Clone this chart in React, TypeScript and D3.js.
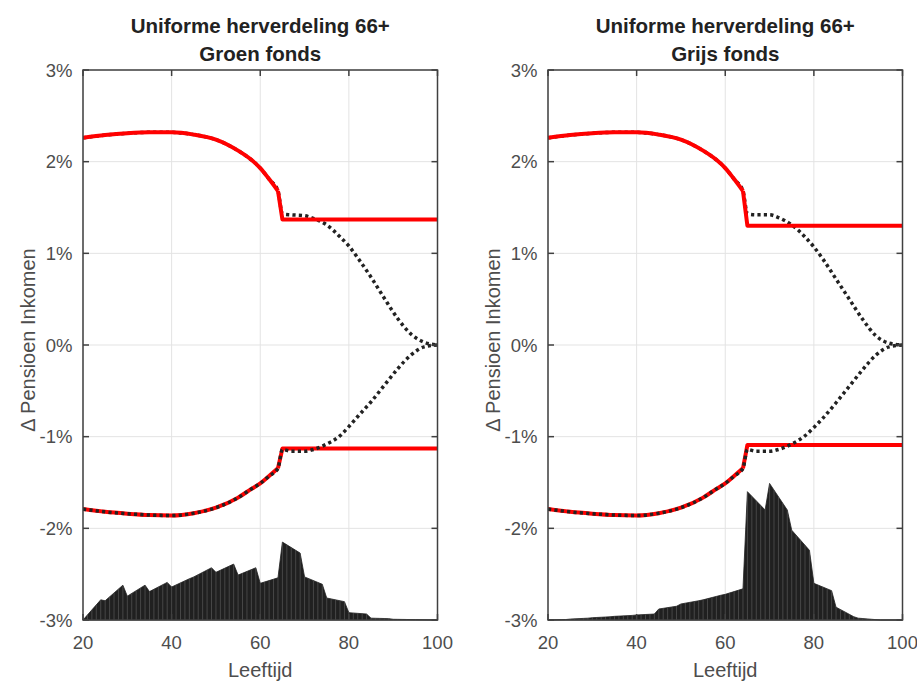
import * as d3 from "d3";
import React from "react";

// ages where the smooth curves are sampled (before the 65 step)
const curveAges = [20, 25, 30, 35, 40, 45, 50, 55, 58, 60, 62, 64];
const upperPre = [2.26, 2.29, 2.31, 2.32, 2.32, 2.295, 2.24, 2.12, 2.02, 1.93, 1.81, 1.68];
const lowerPre = [-1.79, -1.82, -1.84, -1.855, -1.86, -1.835, -1.775, -1.665, -1.57, -1.51, -1.43, -1.345];

// after 65 (red = uniform, dotted = reference)
const flatAges = [64, 65, 100];
const redUpperGroen = [1.68, 1.37, 1.37];
const redLowerGroen = [-1.345, -1.13, -1.13];
const redUpperGrijs = [1.68, 1.3, 1.3];
const redLowerGrijs = [-1.345, -1.09, -1.09];

const dotAges = [65, 67, 70, 72, 75, 78, 80, 82, 85, 88, 91, 94, 97, 100];
const dotUpperGroen = [1.43, 1.42, 1.41, 1.38, 1.31, 1.18, 1.08, 0.95, 0.74, 0.51, 0.29, 0.12, 0.03, 0];
const dotLowerGroen = [-1.14, -1.16, -1.16, -1.14, -1.08, -0.99, -0.89, -0.78, -0.62, -0.44, -0.26, -0.11, -0.02, 0];
const dotUpperGrijs = [1.43, 1.42, 1.42, 1.39, 1.31, 1.18, 1.07, 0.94, 0.72, 0.5, 0.28, 0.1, 0.02, 0];
const dotLowerGrijs = [-1.14, -1.16, -1.16, -1.14, -1.08, -0.99, -0.9, -0.8, -0.63, -0.45, -0.27, -0.11, -0.02, 0];

// age distribution drawn on the -3% baseline
const histAges = [20, 24, 25, 29, 30, 34, 35, 39, 40, 44, 45, 49, 50, 54, 55, 59, 60, 64, 65, 69, 70, 74, 75, 79, 80, 84, 85, 89, 90, 95, 100];
const histGroen = [0, 0.22, 0.21, 0.38, 0.26, 0.38, 0.31, 0.41, 0.36, 0.45, 0.47, 0.57, 0.52, 0.61, 0.49, 0.57, 0.4, 0.46, 0.85, 0.73, 0.47, 0.39, 0.24, 0.2, 0.08, 0.065, 0.02, 0.015, 0.008, 0.004, 0];
const histGrijs = [0, 0.005, 0.01, 0.02, 0.025, 0.035, 0.04, 0.05, 0.055, 0.065, 0.12, 0.15, 0.175, 0.21, 0.22, 0.27, 0.28, 0.34, 1.4, 1.2, 1.49, 1.2, 0.98, 0.76, 0.4, 0.32, 0.14, 0.036, 0.02, 0, 0];

const xTicks = [20, 40, 60, 80, 100];
const yTicks = [-3, -2, -1, 0, 1, 2, 3];
const titleLine1 = "Uniforme herverdeling 66+";

const W = 917;
const H = 682;
const plotTop = 70;
const plotH = 550;
const plotW = 354.5;
const font = "'Liberation Sans', Arial, Helvetica, sans-serif";

interface PanelProps {
  left: number;
  subtitle: string;
  redUpper: number[];
  redLower: number[];
  dotUpper: number[];
  dotLower: number[];
  hist: number[];
  id: string;
}

function Panel({ left, subtitle, redUpper, redLower, dotUpper, dotLower, hist, id }: PanelProps) {
  const x = d3.scaleLinear().domain([20, 100]).range([0, plotW]);
  const y = d3.scaleLinear().domain([-3, 3]).range([plotH, 0]);

  const smooth = d3
    .line<[number, number]>()
    .x((d) => x(d[0]))
    .y((d) => y(d[1]))
    .curve(d3.curveMonotoneX);
  const straight = d3
    .line<[number, number]>()
    .x((d) => x(d[0]))
    .y((d) => y(d[1]));

  const zip = (a: number[], b: number[]) => a.map((v, i) => [v, b[i]] as [number, number]);

  const redU = smooth(zip(curveAges, upperPre)) + (straight(zip(flatAges, redUpper)) || "");
  const redL = smooth(zip(curveAges, lowerPre)) + (straight(zip(flatAges, redLower)) || "");
  const dotU = smooth(zip([...curveAges, ...dotAges], [...upperPre, ...dotUpper])) || "";
  const dotL = smooth(zip([...curveAges, ...dotAges], [...lowerPre, ...dotLower])) || "";

  const area = d3
    .area<[number, number]>()
    .x((d) => x(d[0]))
    .y0(y(-3))
    .y1((d) => y(-3 + d[1]));
  const histPath = area(zip(histAges, hist)) || "";

  const stripes = d3.range(20, 100.01, 1);
  const tick = 6;
  const axisColor = "#404040";

  return (
    <g transform={`translate(${left},${plotTop})`}>
      <defs>
        <clipPath id={`hist-${id}`}>
          <path d={histPath} />
        </clipPath>
        <clipPath id={`plot-${id}`}>
          <rect x={0} y={0} width={plotW} height={plotH} />
        </clipPath>
      </defs>
      <rect x={0} y={0} width={plotW} height={plotH} fill="#fff" />
      {/* grid */}
      {xTicks.map((t) => (
        <line key={`gx${t}`} x1={x(t)} x2={x(t)} y1={0} y2={plotH} stroke="#e3e3e3" strokeWidth={1} />
      ))}
      {yTicks.map((t) => (
        <line key={`gy${t}`} x1={0} x2={plotW} y1={y(t)} y2={y(t)} stroke="#e3e3e3" strokeWidth={1} />
      ))}
      {/* age distribution */}
      <path d={histPath} fill="#202020" stroke="#202020" strokeWidth={0.8} />
      <g clipPath={`url(#hist-${id})`}>
        {stripes.map((a) => (
          <line key={`s${a}`} x1={x(a)} x2={x(a)} y1={0} y2={plotH} stroke="#585858" strokeWidth={0.7} />
        ))}
      </g>
      <g clipPath={`url(#plot-${id})`}>
        <path d={redL} fill="none" stroke="#ff0000" strokeWidth={4} strokeLinejoin="round" />
        <path d={dotL} fill="none" stroke="#222" strokeWidth={3.5} strokeDasharray="3.2,3.2" />
        <path d={dotU} fill="none" stroke="#222" strokeWidth={3.5} strokeDasharray="3.2,3.2" />
        <path d={redU} fill="none" stroke="#ff0000" strokeWidth={4} strokeLinejoin="round" />
      </g>
      {/* box and ticks */}
      <rect x={0} y={0} width={plotW} height={plotH} fill="none" stroke={axisColor} strokeWidth={1.5} />
      {xTicks.map((t) => (
        <g key={`tx${t}`}>
          <line x1={x(t)} x2={x(t)} y1={plotH} y2={plotH - tick} stroke={axisColor} strokeWidth={1.5} />
          <line x1={x(t)} x2={x(t)} y1={0} y2={tick} stroke={axisColor} strokeWidth={1.5} />
          <text x={x(t)} y={plotH + 28.5} textAnchor="middle" fontSize={18.5} fill="#4d4d4d" fontFamily={font}>
            {t}
          </text>
        </g>
      ))}
      {yTicks.map((t) => (
        <g key={`ty${t}`}>
          <line x1={0} x2={tick} y1={y(t)} y2={y(t)} stroke={axisColor} strokeWidth={1.5} />
          <line x1={plotW} x2={plotW - tick} y1={y(t)} y2={y(t)} stroke={axisColor} strokeWidth={1.5} />
          <text x={-10.5} y={y(t)} dy="0.36em" textAnchor="end" fontSize={18.5} fill="#4d4d4d" fontFamily={font}>
            {`${t}%`}
          </text>
        </g>
      ))}
      {/* labels */}
      <text x={plotW / 2} y={plotH + 57} textAnchor="middle" fontSize={20} fill="#4d4d4d" fontFamily={font}>
        Leeftijd
      </text>
      <text
        transform={`translate(${-48.5},${270}) rotate(-90)`}
        textAnchor="middle"
        fontSize={20}
        fill="#4d4d4d"
        fontFamily={font}
      >
        Δ Pensioen Inkomen
      </text>
      <text x={plotW / 2} y={-37.5} textAnchor="middle" fontSize={20.5} fontWeight="bold" fill="#222" fontFamily={font}>
        {titleLine1}
      </text>
      <text x={plotW / 2} y={-9.5} textAnchor="middle" fontSize={20.5} fontWeight="bold" fill="#222" fontFamily={font}>
        {subtitle}
      </text>
    </g>
  );
}

export default function App() {
  return (
    <svg
      width={W}
      height={H}
      style={{ position: "absolute", left: 0, top: 0, background: "#fff" }}
    >
      <rect width={W} height={H} fill="#fff" />
      <Panel
        id="groen"
        left={83}
        subtitle="Groen fonds"
        redUpper={redUpperGroen}
        redLower={redLowerGroen}
        dotUpper={dotUpperGroen}
        dotLower={dotLowerGroen}
        hist={histGroen}
      />
      <Panel
        id="grijs"
        left={548}
        subtitle="Grijs fonds"
        redUpper={redUpperGrijs}
        redLower={redLowerGrijs}
        dotUpper={dotUpperGrijs}
        dotLower={dotLowerGrijs}
        hist={histGrijs}
      />
    </svg>
  );
}
